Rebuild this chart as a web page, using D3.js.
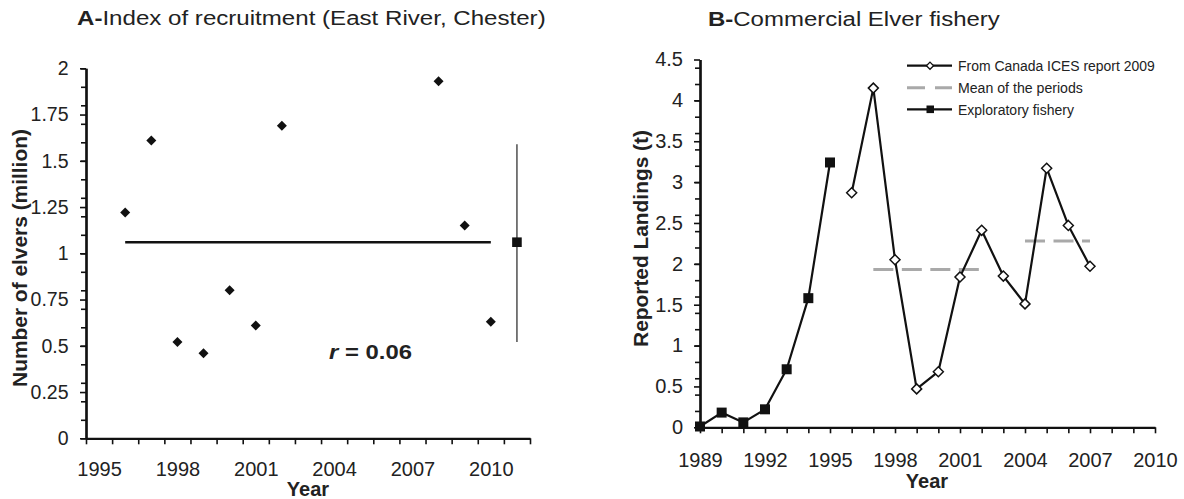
<!DOCTYPE html>
<html>
<head>
<meta charset="utf-8">
<script src="https://cdn.jsdelivr.net/npm/d3@7"></script>
<style>
  html, body { margin: 0; padding: 0; background: #fff; }
  svg { display: block; }
  text { font-family: 'Liberation Sans', Arial, Helvetica, sans-serif; fill: #222; }
</style>
</head>
<body>
<svg id="chart" width="1184" height="499"></svg>
<script>
// ---- Panel A: index of elver recruitment, East River (Chester) ----
const recruitYears  = [1996, 1997, 1998, 1999, 2000, 2001, 2002, 2008, 2009, 2010];
const recruitElvers = [1.22, 1.61, 0.52, 0.46, 0.80, 0.61, 1.69, 1.93, 1.15, 0.63];
const recruitMean = 1.06;
const recruitMeanYear = 2011;
const recruitRange = [0.52, 1.59];
const recruitCorr = "0.06";
const recruitYTicks = [0, 0.25, 0.5, 0.75, 1, 1.25, 1.5, 1.75, 2];
const recruitXLabels = [1995, 1998, 2001, 2004, 2007, 2010];

// ---- Panel B: commercial elver landings (t) ----
const exploratoryYears    = [1989, 1990, 1991, 1992, 1993, 1994, 1995];
const exploratoryLandings = [0.01, 0.18, 0.06, 0.22, 0.71, 1.58, 3.24];
const icesYears    = [1996, 1997, 1998, 1999, 2000, 2001, 2002, 2003, 2004, 2005, 2006, 2007];
const icesLandings = [2.87, 4.15, 2.05, 0.47, 0.68, 1.84, 2.41, 1.85, 1.51, 3.17, 2.47, 1.97];
const periodStart = [1997, 2004];
const periodEnd   = [2002, 2007];
const periodMean  = [1.93, 2.28];
const landingYTicks = [0, 0.5, 1, 1.5, 2, 2.5, 3, 3.5, 4, 4.5];
const landingXLabels = [1989, 1992, 1995, 1998, 2001, 2004, 2007, 2010];
const legendLabels = ["From Canada ICES report 2009", "Mean of the periods", "Exploratory fishery"];

const svg = d3.select("#chart");
svg.append("rect").attr("width", 1184).attr("height", 499).attr("fill", "#fff");

const INK = "#111";
const diamond = r => `M0,${-r}L${r},0L0,${r}L${-r},0Z`;

// Stretch a text horizontally so that it spans the given width
function fitText(textSel, width) {
  const w = textSel.node().getComputedTextLength();
  const g = d3.select(textSel.node().parentNode);
  g.attr("transform", g.attr("transform") + ` scale(${width / w},1)`);
}

function styleAxis(g, fontSize) {
  g.attr("font-family", null).attr("font-size", null);
  g.select(".domain").attr("stroke", INK).attr("stroke-width", 2.2);
  g.selectAll(".tick line").attr("stroke", INK).attr("stroke-width", 1.6);
  g.selectAll(".tick text").attr("fill", "#222").style("font-size", fontSize + "px");
}

// ================= Panel A =================
const xA = d3.scaleLinear().domain([1994.5, 2011.5]).range([86, 530]);
const yA = d3.scaleLinear().domain([0, 2]).range([438.3, 68.3]);

// minor y ticks every 0.1
svg.append("g").attr("transform", "translate(86,0)")
  .call(d3.axisLeft(yA).tickValues(d3.range(0, 21).map(i => i / 10)).tickSize(5).tickSizeOuter(0).tickFormat(""))
  .call(g => styleAxis(g, 19));
// major y ticks with labels
svg.append("g").attr("transform", "translate(86,0)")
  .call(d3.axisLeft(yA).tickValues(recruitYTicks).tickSize(6).tickSizeOuter(0).tickPadding(11.5).tickFormat(d => String(d)))
  .call(g => styleAxis(g, 19.5));
// x ticks at year boundaries
svg.append("g").attr("transform", "translate(0,438.3)")
  .call(d3.axisBottom(xA).tickValues(d3.range(0, 18).map(i => 1994.5 + i)).tickSize(6).tickSizeOuter(0).tickFormat(""))
  .call(g => styleAxis(g, 20));
// x labels centred on each year
svg.append("g").attr("transform", "translate(0,438.3)")
  .call(d3.axisBottom(xA).tickValues(recruitXLabels).tickSize(0).tickPadding(23.2).tickFormat(d => String(d)))
  .call(g => styleAxis(g, 20))
  .call(g => g.select(".domain").remove());

// mean line across the series
svg.append("line")
  .attr("x1", xA(recruitYears[0])).attr("x2", xA(recruitYears[recruitYears.length - 1]))
  .attr("y1", yA(recruitMean)).attr("y2", yA(recruitMean))
  .attr("stroke", INK).attr("stroke-width", 2.6);

// yearly values
svg.append("g").selectAll("path").data(recruitYears).join("path")
  .attr("d", diamond(5))
  .attr("transform", (d, i) => `translate(${xA(d)},${yA(recruitElvers[i])})`)
  .attr("fill", INK);

// mean with its range
svg.append("line")
  .attr("x1", xA(recruitMeanYear)).attr("x2", xA(recruitMeanYear))
  .attr("y1", yA(recruitRange[0])).attr("y2", yA(recruitRange[1]))
  .attr("stroke", "#333").attr("stroke-width", 1.3);
svg.append("rect")
  .attr("x", xA(recruitMeanYear) - 4.8).attr("y", yA(recruitMean) - 4.8)
  .attr("width", 9.6).attr("height", 9.6).attr("fill", INK);

// correlation note
{
  const g = svg.append("g").attr("transform", "translate(329,359)");
  const t = g.append("text").style("font-size", "20px").attr("font-weight", "bold");
  t.append("tspan").attr("font-style", "italic").text("r");
  t.append("tspan").text(" = " + recruitCorr);
  fitText(t, 83);
}

// title A
{
  const g = svg.append("g").attr("transform", "translate(77,25)");
  const t = g.append("text").style("font-size", "21px");
  t.append("tspan").attr("font-weight", "bold").text("A-");
  t.append("tspan").text("Index of recruitment (East River, Chester)");
  fitText(t, 469);
}
// axis titles A
{
  const g = svg.append("g").attr("transform", "translate(27,258) rotate(-90)");
  const t = g.append("text").attr("text-anchor", "middle").attr("font-weight", "bold")
    .style("font-size", "19.5px").text("Number of elvers (million)");
  fitText(t, 258);
}
svg.append("text").attr("x", 308).attr("y", 495.5).attr("text-anchor", "middle")
  .attr("font-weight", "bold").style("font-size", "20px").text("Year");

// ================= Panel B =================
const xB = d3.scaleLinear().domain([1989, 2010]).range([700, 1155]);
const yB = d3.scaleLinear().domain([0, 4.5]).range([427.3, 59.5]);

svg.append("g").attr("transform", "translate(700,0)")
  .call(d3.axisLeft(yB).tickValues(d3.range(0, 23).map(i => i * 0.2)).tickSize(5).tickSizeOuter(0).tickFormat(""))
  .call(g => styleAxis(g, 20));
svg.append("g").attr("transform", "translate(700,0)")
  .call(d3.axisLeft(yB).tickValues(landingYTicks).tickSize(6).tickSizeOuter(0).tickPadding(11).tickFormat(d => String(d)))
  .call(g => styleAxis(g, 20));
svg.append("g").attr("transform", "translate(0,427.3)")
  .call(d3.axisBottom(xB).tickValues(d3.range(1989, 2011)).tickSize(6).tickSizeOuter(0).tickFormat(""))
  .call(g => styleAxis(g, 20));
svg.append("g").attr("transform", "translate(0,427.3)")
  .call(d3.axisBottom(xB).tickValues(landingXLabels).tickSize(0).tickPadding(25.2).tickFormat(d => String(d)))
  .call(g => styleAxis(g, 20))
  .call(g => g.select(".domain").remove());

// period means
svg.append("g").selectAll("line").data(periodMean).join("line")
  .attr("x1", (d, i) => xB(periodStart[i])).attr("x2", (d, i) => xB(periodEnd[i]))
  .attr("y1", d => yB(d)).attr("y2", d => yB(d))
  .attr("stroke", "#a9a9a9").attr("stroke-width", 3).attr("stroke-dasharray", "20,8.5");

const lineGen = (years) => d3.line().x((d, i) => xB(years[i])).y(d => yB(d));

svg.append("path").datum(exploratoryLandings).attr("d", lineGen(exploratoryYears))
  .attr("fill", "none").attr("stroke", INK).attr("stroke-width", 2.2).attr("stroke-linejoin", "round");
svg.append("path").datum(icesLandings).attr("d", lineGen(icesYears))
  .attr("fill", "none").attr("stroke", INK).attr("stroke-width", 2.2).attr("stroke-linejoin", "round");

svg.append("g").selectAll("rect").data(exploratoryLandings).join("rect")
  .attr("x", (d, i) => xB(exploratoryYears[i]) - 5).attr("y", d => yB(d) - 5)
  .attr("width", 10).attr("height", 10).attr("fill", INK);
svg.append("g").selectAll("path").data(icesLandings).join("path")
  .attr("d", diamond(5))
  .attr("transform", (d, i) => `translate(${xB(icesYears[i])},${yB(d)})`)
  .attr("fill", "#fff").attr("stroke", INK).attr("stroke-width", 1.5);

// legend
{
  const rows = [65.7, 87.7, 109.3];
  const widths = [197, 125, 116];
  const lg = svg.append("g");
  legendLabels.forEach((label, i) => {
    const y = rows[i];
    if (i === 1) {
      lg.append("line").attr("x1", 907).attr("x2", 952).attr("y1", y).attr("y2", y)
        .attr("stroke", "#a9a9a9").attr("stroke-width", 3).attr("stroke-dasharray", "18,10");
    } else {
      lg.append("line").attr("x1", 907).attr("x2", 952).attr("y1", y).attr("y2", y)
        .attr("stroke", INK).attr("stroke-width", 2.2);
    }
    if (i === 0) {
      lg.append("path").attr("d", diamond(3.6)).attr("transform", `translate(930,${y})`)
        .attr("fill", "#fff").attr("stroke", INK).attr("stroke-width", 1.3);
    }
    if (i === 2) {
      lg.append("rect").attr("x", 926.5).attr("y", y - 3.8).attr("width", 7.5).attr("height", 7.6).attr("fill", INK);
    }
    const g = lg.append("g").attr("transform", `translate(958,${y + 5.3})`);
    const t = g.append("text").style("font-size", "15px").text(label);
    fitText(t, widths[i]);
  });
}

// title B
{
  const g = svg.append("g").attr("transform", "translate(708,26)");
  const t = g.append("text").style("font-size", "21px");
  t.append("tspan").attr("font-weight", "bold").text("B-");
  t.append("tspan").text("Commercial Elver fishery");
  fitText(t, 292);
}
// axis titles B
{
  const g = svg.append("g").attr("transform", "translate(648,238.5) rotate(-90)");
  const t = g.append("text").attr("text-anchor", "middle").attr("font-weight", "bold")
    .style("font-size", "20px").text("Reported Landings (t)");
  fitText(t, 217);
}
svg.append("text").attr("x", 927).attr("y", 487.5).attr("text-anchor", "middle")
  .attr("font-weight", "bold").style("font-size", "20px").text("Year");
</script>
</body>
</html>
